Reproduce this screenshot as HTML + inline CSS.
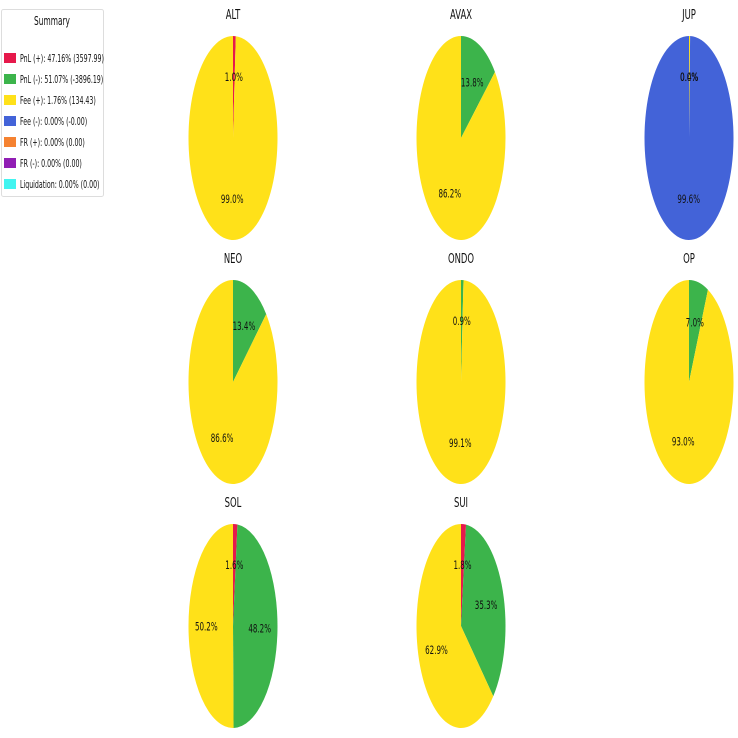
<!DOCTYPE html>
<html><head><meta charset="utf-8"><style>
html,body{margin:0;padding:0;background:#fff;}
svg{display:block;font-family:"DejaVu Sans","Liberation Sans",sans-serif;}
</style></head><body>
<svg id="s" width="738" height="738" viewBox="0 0 738 738" xmlns="http://www.w3.org/2000/svg">
<rect width="738" height="738" fill="#fff"/>
<rect x="1.5" y="9.5" width="102" height="187" fill="#fff" stroke="#ddd" stroke-width="1" rx="2"/>
<g id="leg"></g>
<g id="pies"></g>
</svg>
<script>
const C={r:'#e6194b',g:'#3cb44b',y:'#ffe119',b:'#4363d8',o:'#f58231',p:'#911eb4',c:'#42f4f0'};
const NS='http://www.w3.org/2000/svg';
function el(t,a,p){const e=document.createElementNS(NS,t);for(const k in a)e.setAttribute(k,a[k]);p.appendChild(e);return e;}
function txt(x,y,s,size,p,anchor,sx){const g=el('g',{transform:`translate(${x},${y}) scale(${sx||0.68},1)`},p);const t=el('text',{x:0,y:0,'font-size':size,'text-anchor':anchor||'middle',fill:'#111'},g);t.textContent=s;}
const leg=document.getElementById('leg');
txt(52,25,'Summary',12,leg,'middle',0.62);
const items=[['r','PnL (+): 47.16% (3597.99)'],['g','PnL (-): 51.07% (-3896.19)'],['y','Fee (+): 1.76% (134.43)'],['b','Fee (-): 0.00% (-0.00)'],['o','FR (+): 0.00% (0.00)'],['p','FR (-): 0.00% (0.00)'],['c','Liquidation: 0.00% (0.00)']];
items.forEach((it,i)=>{const y=58+i*21;el('rect',{x:4,y:y-5,width:12,height:10,fill:C[it[0]]},leg);txt(20,y+4,it[1],11,leg,'start',0.57);});
const pies=[
['ALT',233,138,[['r',1.0],['y',99.0]]],
['AVAX',461,138,[['g',13.8],['y',86.2]]],
['JUP',689,138,[['r',0.0],['y',0.4],['b',99.6]]],
['NEO',233,382,[['g',13.4],['y',86.6]]],
['ONDO',461,382,[['g',0.9],['y',99.1]]],
['OP',689,382,[['g',7.0],['y',93.0]]],
['SOL',233,626,[['r',1.6],['g',48.2],['y',50.2]]],
['SUI',461,626,[['r',1.8],['g',35.3],['y',62.9]]]];
const P=document.getElementById('pies');const rx=44.5,ry=102;
pies.forEach(([n,cx,cy,sl])=>{
 txt(cx,cy-ry-17,n,13,P,'middle',0.65);
 let tot=sl.reduce((a,b)=>a+b[1],0),a0=0;const lab=[];
 sl.forEach(([c,v])=>{const a1=a0+v/tot*2*Math.PI;
  const pt=a=>[cx+rx*Math.sin(a),cy-ry*Math.cos(a)];
  const [x0,y0]=pt(a0),[x1,y1]=pt(a1);
  if(v>0){if(v/tot>0.9999){el('ellipse',{cx,cy,rx,ry,fill:C[c]},P);}
  else el('path',{d:`M${cx},${cy}L${x0},${y0}A${rx},${ry} 0 ${(a1-a0)>Math.PI?1:0} 1 ${x1},${y1}Z`,fill:C[c]},P);}
  const m=(a0+a1)/2;lab.push([cx+0.6*rx*Math.sin(m),cy-0.6*ry*Math.cos(m)+4,v.toFixed(1)+'%']);a0=a1;});
 lab.forEach(l=>txt(l[0],l[1],l[2],11.5,P,'middle',0.62));
});
</script>
</body></html>
